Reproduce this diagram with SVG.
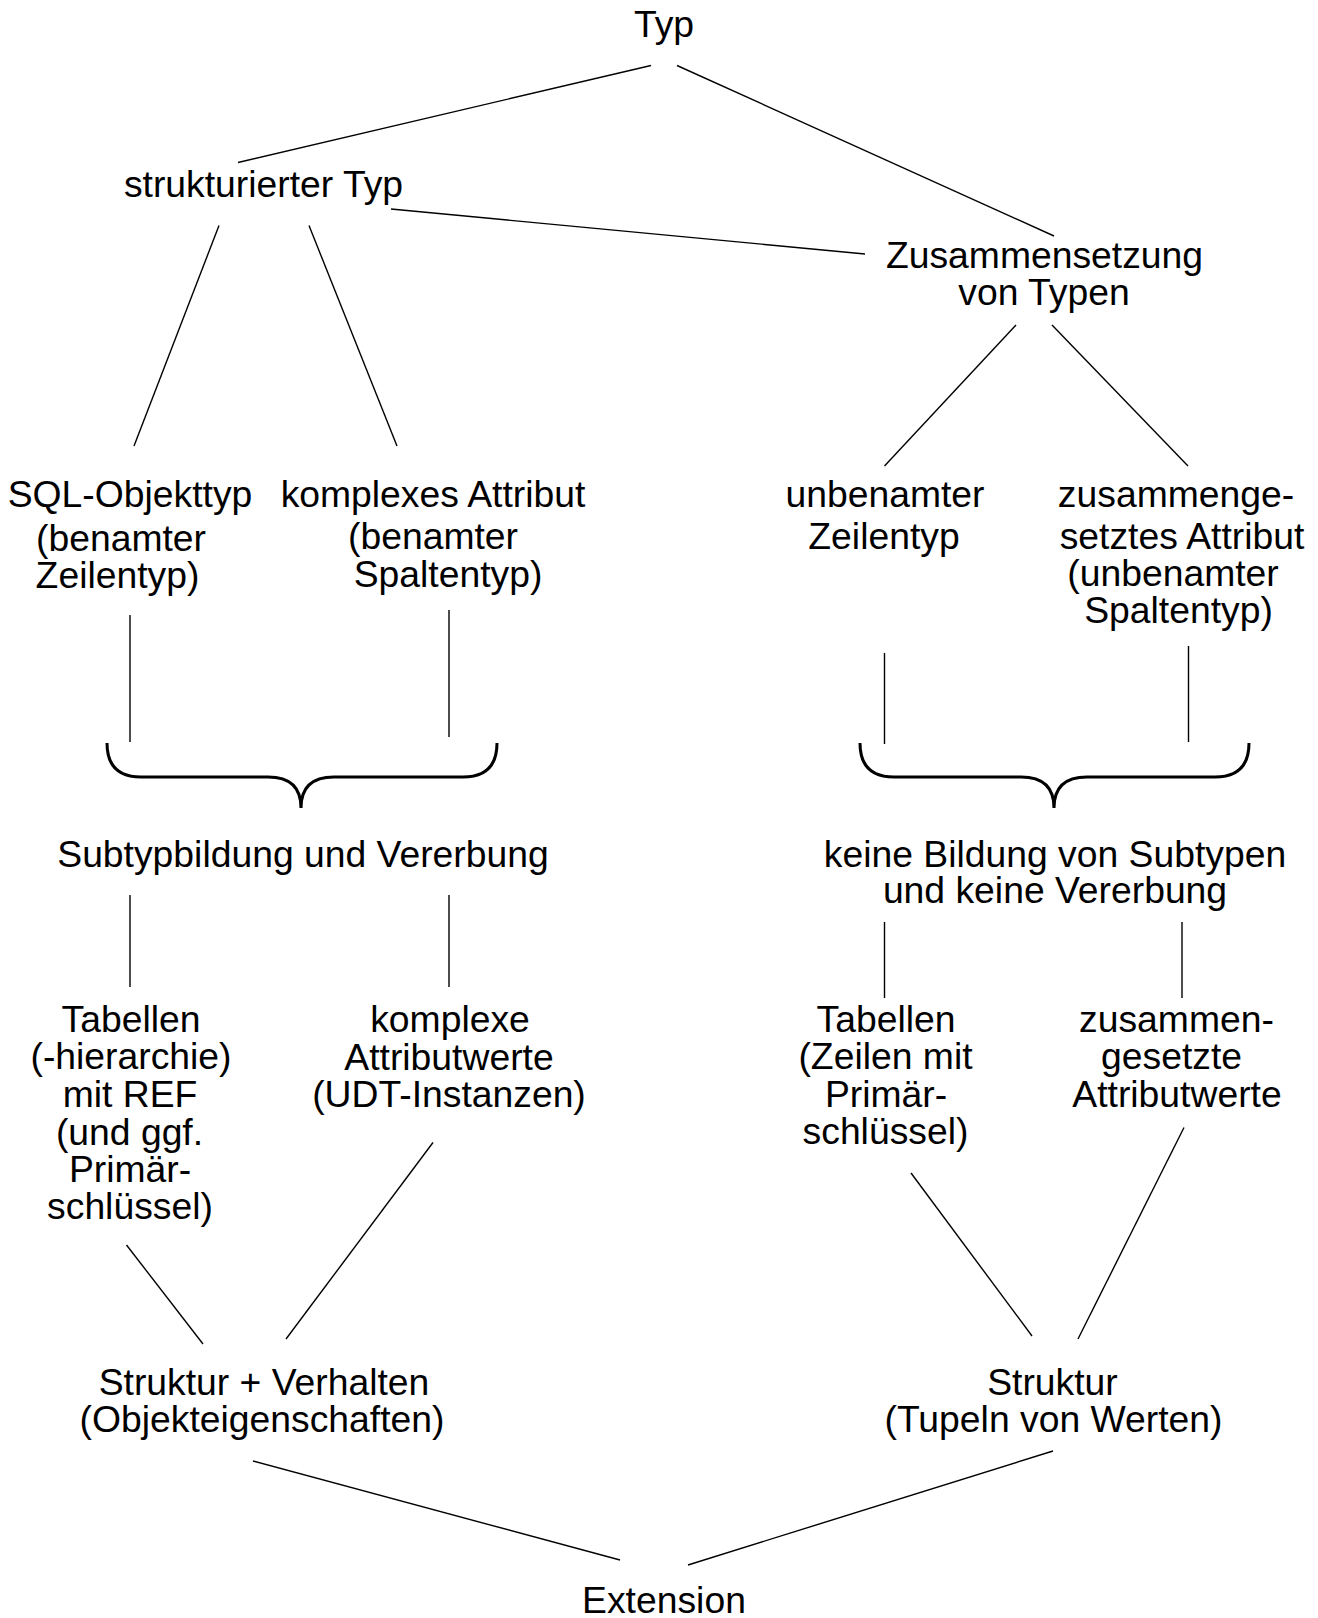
<svg xmlns="http://www.w3.org/2000/svg" width="1318" height="1618" viewBox="0 0 1318 1618">
<style>
text{font-family:"Liberation Sans",Arial,sans-serif;font-size:37.3px;fill:#000;text-anchor:middle}
.c line{stroke:#000;stroke-width:1.4;fill:none}
.b{stroke:#000;stroke-width:3;fill:none}
</style>
<rect width="1318" height="1618" fill="#fff"/>
<g id="typ"><text x="664" y="37">Typ</text></g>
<g id="strukturierter-typ"><text x="263.5" y="197">strukturierter Typ</text></g>
<g id="zusammensetzung"><text x="1044.5" y="268">Zusammensetzung</text><text x="1044" y="305">von Typen</text></g>
<g id="sql-objekttyp"><text x="130" y="507">SQL-Objekttyp</text><text x="121" y="551">(benamter</text><text x="117.5" y="588">Zeilentyp)</text></g>
<g id="komplexes-attribut"><text x="433" y="507">komplexes Attribut</text><text x="433" y="548.5">(benamter</text><text x="448" y="586.5">Spaltentyp)</text></g>
<g id="unbenamter-zeilentyp"><text x="885" y="507">unbenamter</text><text x="884" y="548.5">Zeilentyp</text></g>
<g id="zusammengesetztes-attribut"><text x="1176" y="507">zusammenge-</text><text x="1182" y="548.5">setztes Attribut</text><text x="1173" y="586">(unbenamter</text><text x="1178.5" y="622.5">Spaltentyp)</text></g>
<g id="subtypbildung"><text x="303" y="866.5">Subtypbildung und Vererbung</text></g>
<g id="keine-subtypen"><text x="1055" y="866.5">keine Bildung von Subtypen</text><text x="1055" y="903">und keine Vererbung</text></g>
<g id="tabellen-ref"><text x="131" y="1032">Tabellen</text><text x="131" y="1068.5">(-hierarchie)</text><text x="130" y="1106.5">mit REF</text><text x="129.5" y="1144.5">(und ggf.</text><text x="130" y="1181.5">Primär-</text><text x="130" y="1218.5">schlüssel)</text></g>
<g id="komplexe-attributwerte"><text x="450" y="1032">komplexe</text><text x="449" y="1070">Attributwerte</text><text x="449" y="1107">(UDT-Instanzen)</text></g>
<g id="tabellen-zeilen"><text x="886" y="1032">Tabellen</text><text x="885.5" y="1069">(Zeilen mit</text><text x="886" y="1107">Primär-</text><text x="885.5" y="1144">schlüssel)</text></g>
<g id="zusammengesetzte-attributwerte"><text x="1176.5" y="1032">zusammen-</text><text x="1171.5" y="1068.5">gesetzte</text><text x="1177" y="1106.5">Attributwerte</text></g>
<g id="struktur-verhalten"><text x="264" y="1395">Struktur + Verhalten</text><text x="262" y="1431.5">(Objekteigenschaften)</text></g>
<g id="struktur"><text x="1052.5" y="1395">Struktur</text><text x="1053.5" y="1431.5">(Tupeln von Werten)</text></g>
<g id="extension"><text x="664" y="1613">Extension</text></g>
<g id="connectors" class="c">
<line x1="651" y1="65.5" x2="238" y2="162.5"/>
<line x1="677" y1="65.5" x2="1054" y2="236"/>
<line x1="391" y1="209" x2="865" y2="254"/>
<line x1="219" y1="225.5" x2="134" y2="446"/>
<line x1="309" y1="225.5" x2="397" y2="446"/>
<line x1="1016" y1="325" x2="884.5" y2="466"/>
<line x1="1052" y1="325" x2="1188" y2="466"/>
<line x1="130" y1="615" x2="130" y2="742"/>
<line x1="449" y1="610" x2="449" y2="737"/>
<line x1="884.5" y1="653" x2="884.5" y2="744"/>
<line x1="1188.5" y1="646" x2="1188.5" y2="742"/>
<line x1="130" y1="895" x2="130" y2="987"/>
<line x1="449" y1="895" x2="449" y2="987"/>
<line x1="884.5" y1="922" x2="884.5" y2="998"/>
<line x1="1182" y1="922" x2="1182" y2="998"/>
<line x1="126.5" y1="1245" x2="203" y2="1344"/>
<line x1="433" y1="1142.5" x2="286" y2="1339"/>
<line x1="911" y1="1173" x2="1032" y2="1336"/>
<line x1="1184" y1="1127.5" x2="1078" y2="1339"/>
<line x1="253" y1="1461" x2="620" y2="1560"/>
<line x1="1053" y1="1451" x2="688" y2="1565"/>
<path class="b" d="M107,743 Q107,777 141,777 L268,777 Q301,777 301,808 Q301,777 334,777 L463,777 Q497,777 497,743"/>
<path class="b" d="M860,743 Q860,777 894,777 L1021,777 Q1054,777 1054,808 Q1054,777 1087,777 L1215,777 Q1249,777 1249,743"/>
</g>
</svg>
